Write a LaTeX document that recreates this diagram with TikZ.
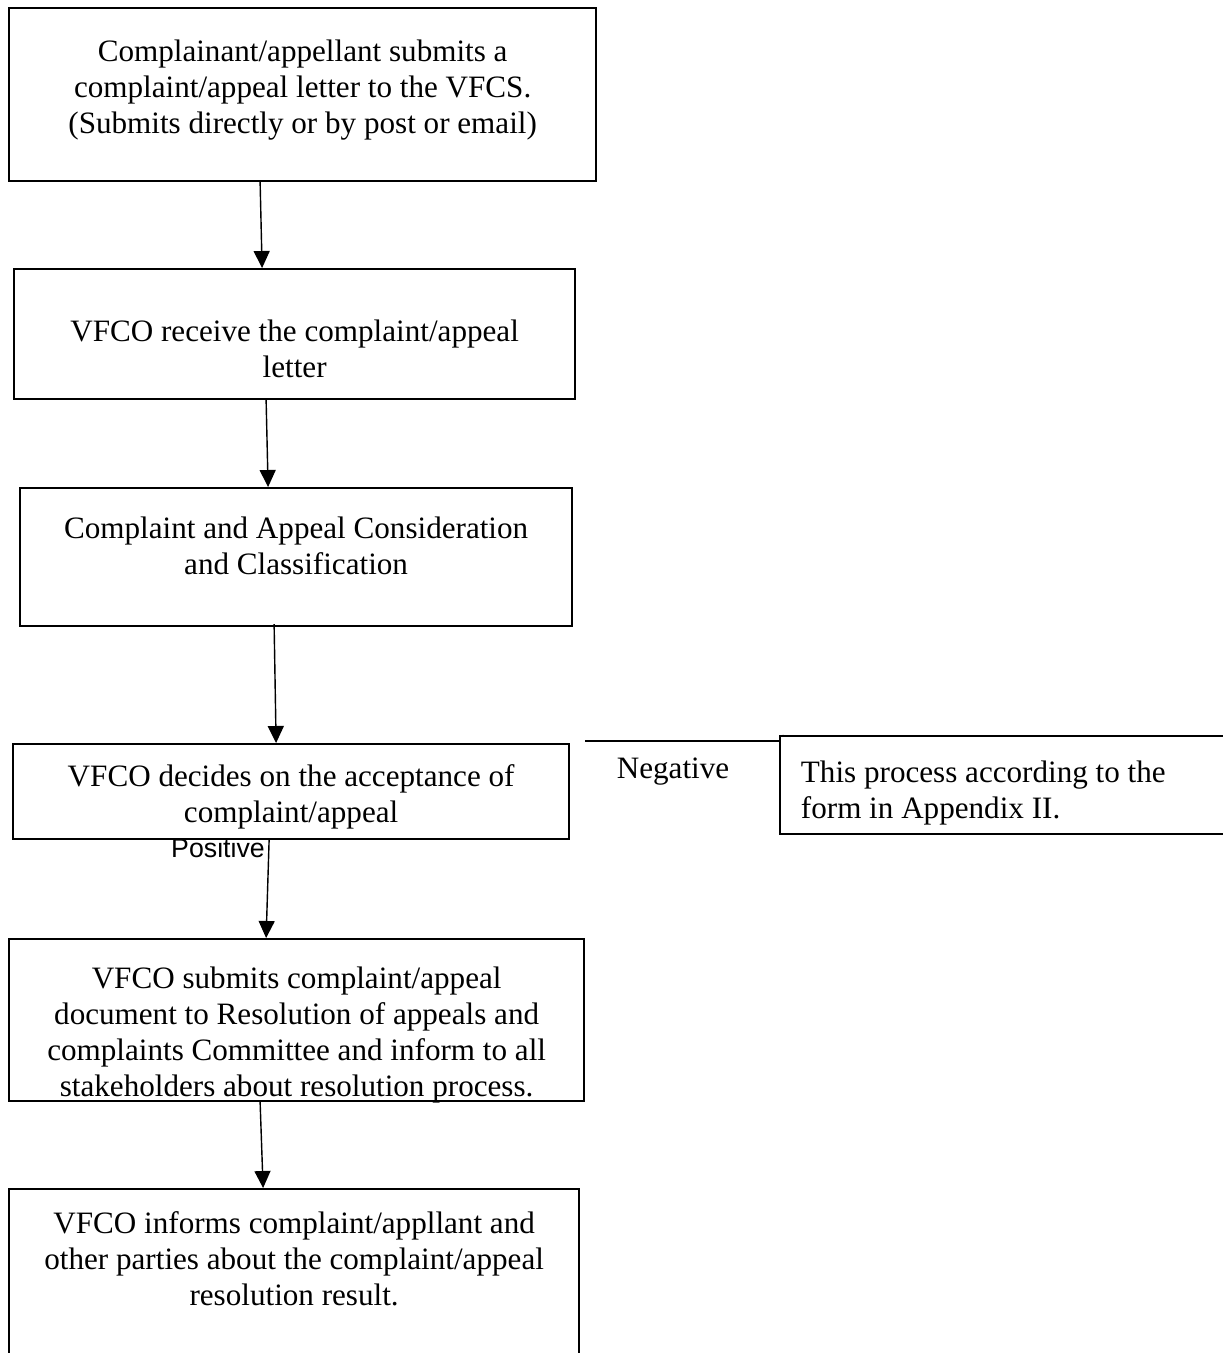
\documentclass[tikz,border=0pt]{standalone}
\usepackage{fontspec}
\setmainfont{Liberation Serif}
\newfontfamily\possans{Liberation Sans}
\usetikzlibrary{arrows.meta}
\newcommand{\boxtext}[4]{\parbox[c][#1][t]{#2}{\centering\vspace*{#3}\strut#4}}

\begin{document}
\begin{tikzpicture}[x=0.01cm, y=-0.01cm,
  font=\fontsize{8.85}{10.24}\selectfont,
  stepbox/.style={draw, line width=0.55pt, fill=white, inner sep=0pt, anchor=north west},
  flow/.style={-{Triangle[length=0.17cm,width=0.16cm]}, line width=0.4pt}]
\useasboundingbox (0,0) rectangle (1223,1353);
\clip (0,0) rectangle (1223,1353);

% label sits partly under the decision box
\node[font=\fontsize{7.6}{9}\possans, inner sep=0pt] (pos) at (218,848) {Positive};

% negative branch runs under the note box
\coordinate (negstart) at (585,741);
\coordinate (negend) at (790,741);
\draw[line width=0.4pt, -{Latex[length=2pt,width=4pt]}] (negstart) -- (negend);

\node[stepbox] (submit) at (8,7) {\boxtext{1.73cm}{5.87cm}{0.28cm}{Complainant/appellant submits a\\ complaint/appeal letter to the VFCS.\\ (Submits directly or by post or email)}};
\node[stepbox] (receive) at (13,268) {\boxtext{1.30cm}{5.61cm}{0.47cm}{VFCO receive the complaint/appeal\\ letter}};
\node[stepbox] (classify) at (19,487) {\boxtext{1.38cm}{5.52cm}{0.25cm}{Complaint and Appeal Consideration\\ and Classification}};
\node[stepbox] (decide) at (12,743) {\boxtext{0.95cm}{5.56cm}{0.17cm}{VFCO decides on the acceptance of\\ complaint/appeal}};
\node[stepbox] (forward) at (8,938) {\boxtext{1.62cm}{5.75cm}{0.24cm}{VFCO submits complaint/appeal\\ document to Resolution of appeals and\\ complaints Committee and inform to all\\ stakeholders about resolution process.}};
\node[stepbox] (inform) at (8,1188) {\boxtext{2.30cm}{5.70cm}{0.19cm}{VFCO informs complaint/appllant and\\ other parties about the complaint/appeal\\ resolution result.}};
\node[stepbox] (note) at (779,735) {\parbox[c][0.98cm][t]{4.8cm}{\leftskip=0.21cm\vspace*{0.21cm}\strut This process according to the\\ form in Appendix II.}};

\node (neg) at (673,772) {Negative};

\draw[flow] ([xshift=-0.425cm]submit.south) -- ([xshift=-0.325cm]receive.north);
\draw[flow] ([xshift=-0.285cm]receive.south) -- ([xshift=-0.28cm]classify.north);
\draw[flow] ([xshift=-0.22cm,yshift=0.03cm]classify.south) -- ([xshift=-0.15cm]decide.north);
\draw[flow] ([xshift=-0.22cm]decide.south) -- ([xshift=-0.305cm]forward.north);
\draw[flow] ([xshift=-0.365cm]forward.south) -- ([xshift=-0.31cm]inform.north);
\end{tikzpicture}
\end{document}
